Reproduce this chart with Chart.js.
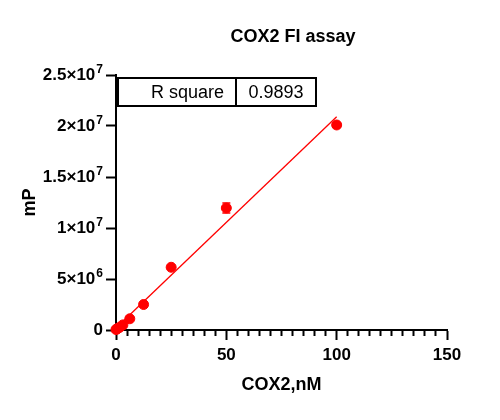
<!DOCTYPE html>
<html>
<head>
<meta charset="utf-8">
<script src="https://cdn.jsdelivr.net/npm/chart.js@4"></script>
<style>
  body { margin: 0; background: #fff; }
  #wrap { width: 500px; height: 420px; }
</style>
</head>
<body>
<div id="wrap"><canvas id="myChart" width="500" height="420"></canvas></div>
<script>
// COX2 concentration (nM) and mP readings
const conc = [100, 50, 25, 12.5, 6.25, 3.125, 1.5625, 0.78125, 0.390625, 0];
const mp = [20100000, 11960000, 6150000, 2500000, 1100000, 500000, 250000, 150000, 100000, 50000];
const err = [250000, 500000, 200000, 150000, 100000, 50000, 30000, 20000, 10000, 10000];

// linear fit line ends
const fitX = [0, 100];
const fitY = [200000, 20900000];

const rSquare = '0.9893';
const xTicks = [0, 50, 100, 150];
const yTicks = [0, 5e6, 1e7, 1.5e7, 2e7, 2.5e7];

const red = 'rgb(255, 0, 0)';
const FONT = '"Liberation Sans", Arial, sans-serif';

// split a tick value into mantissa text and exponent
function sciParts(v) {
  if (v === 0) return ['0', ''];
  const e = Math.floor(Math.log10(v));
  const m = +(v / Math.pow(10, e)).toFixed(2);
  return [m + '\u00d710', String(e)];
}

const points = conc.map((c, i) => ({ x: c, y: mp[i] }));
const fit = fitX.map((x, i) => ({ x: x, y: fitY[i] }));

const extras = {
  id: 'extras',
  beforeDatasetsDraw(chart) {
    // error bars
    const ctx = chart.ctx;
    const xs = chart.scales.x, ys = chart.scales.y;
    ctx.save();
    ctx.strokeStyle = red;
    ctx.lineWidth = 1.5;
    conc.forEach((c, i) => {
      const px = xs.getPixelForValue(c);
      const top = ys.getPixelForValue(mp[i] + err[i]);
      const bot = ys.getPixelForValue(mp[i] - err[i]);
      ctx.beginPath();
      ctx.moveTo(px, top); ctx.lineTo(px, bot);
      ctx.moveTo(px - 4, top); ctx.lineTo(px + 4, top);
      ctx.moveTo(px - 4, bot); ctx.lineTo(px + 4, bot);
      ctx.stroke();
    });
    ctx.restore();
  },
  afterDraw(chart) {
    const ctx = chart.ctx;
    const a = chart.chartArea;
    const ys = chart.scales.y;
    ctx.save();
    ctx.fillStyle = '#000';

    // y tick labels with superscript exponents
    ctx.textBaseline = 'middle';
    ctx.textAlign = 'right';
    yTicks.forEach(v => {
      const py = ys.getPixelForValue(v);
      const [main, exp] = sciParts(v);
      let right = a.left - 13;
      if (exp) {
        ctx.font = 'bold 12px ' + FONT;
        ctx.fillText(exp, right, py - 5);
        right -= ctx.measureText(exp).width + 1;
      }
      ctx.font = 'bold 17px ' + FONT;
      ctx.fillText(main, right, py);
    });

    // title
    ctx.font = 'bold 18px ' + FONT;
    ctx.textAlign = 'center';
    ctx.fillText('COX2 FI assay', 293, 37);

    // R square table
    const tx = a.left + 2, ty = a.top + 3, tw = 198, th = 28, split = 118;
    ctx.strokeStyle = '#000';
    ctx.lineWidth = 2;
    ctx.strokeRect(tx, ty, tw, th);
    ctx.beginPath();
    ctx.moveTo(tx + split, ty); ctx.lineTo(tx + split, ty + th);
    ctx.stroke();
    ctx.font = '18px ' + FONT;
    ctx.textAlign = 'right';
    ctx.fillText('R square', tx + split - 12, ty + th / 2 + 1);
    ctx.textAlign = 'center';
    ctx.fillText(rSquare, tx + split + (tw - split) / 2, ty + th / 2 + 1);
    ctx.restore();
  }
};

const ctx = document.getElementById('myChart').getContext('2d');

new Chart(ctx, {
  type: 'scatter',
  data: {
    datasets: [{
      label: 'fit',
      type: 'line',
      data: fit,
      borderColor: red,
      borderWidth: 1.3,
      pointRadius: 0,
      fill: false,
      clip: false
    }, {
      label: 'COX2',
      data: points,
      backgroundColor: red,
      borderColor: red,
      pointRadius: 5,
      clip: false
    }]
  },
  options: {
    responsive: false,
    animation: false,
    layout: { padding: { top: 75, right: 53, left: 0, bottom: 0 } },
    plugins: {
      legend: { display: false },
      tooltip: { enabled: false }
    },
    scales: {
      x: {
        type: 'linear',
        min: 0,
        max: 150,
        afterFit: s => { s.height = 90; },
        ticks: {
          stepSize: 5,
          autoSkip: false,
          maxRotation: 0,
          padding: 5,
          color: '#000',
          font: { size: 17, weight: 'bold', family: FONT },
          callback: v => xTicks.includes(v) ? v : ''
        },
        grid: {
          drawOnChartArea: false,
          tickLength: 10,
          color: '#000',
          tickWidth: 2,
          tickBorderDash: c => xTicks.includes(c.tick.value) ? [] : [5, 100]
        },
        border: { color: '#000', width: 2 },
        title: {
          display: true,
          text: 'COX2,nM',
          color: '#000',
          font: { size: 18, weight: 'bold', family: FONT },
          padding: { top: 0, bottom: 24 }
        }
      },
      y: {
        min: 0,
        max: 25000000,
        afterFit: s => { s.width = 116; },
        afterBuildTicks: s => { s.ticks = yTicks.map(v => ({ value: v })); },
        ticks: {
          padding: 2,
          color: '#000',
          font: { size: 17, weight: 'bold', family: FONT },
          callback: () => ''
        },
        grid: {
          drawOnChartArea: false,
          tickLength: 10,
          color: '#000',
          tickWidth: 2
        },
        border: { color: '#000', width: 2 },
        title: {
          display: true,
          text: 'mP',
          color: '#000',
          font: { size: 18, weight: 'bold', family: FONT },
          padding: { top: 19, bottom: 0 }
        }
      }
    }
  },
  plugins: [extras]
});
</script>
</body>
</html>
